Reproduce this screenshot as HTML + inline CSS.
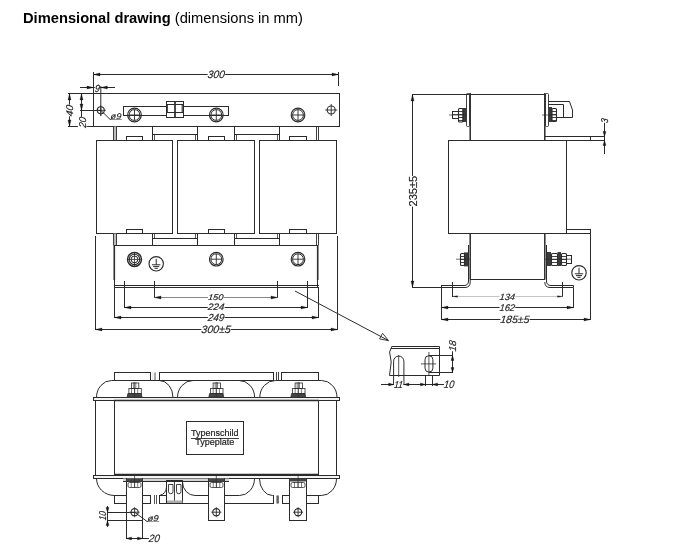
<!DOCTYPE html>
<html><head><meta charset="utf-8"><style>
html,body{margin:0;padding:0;background:#fff;width:700px;height:550px;overflow:hidden}
#t{position:absolute;left:23px;top:10px;will-change:transform;transform-origin:0 0;font-family:"Liberation Sans",sans-serif;font-size:14.7px;color:#000;white-space:nowrap}
svg{position:absolute;left:0;top:0;will-change:transform}
text{font-family:"Liberation Sans",sans-serif;fill:#222}
</style></head><body>
<div id="t"><b>Dimensional drawing</b> (dimensions in mm)</div>
<svg width="700" height="550" viewBox="0 0 700 550">
<path d="M93 74.5L339 74.5" stroke="#2b2b2b" stroke-width="1"/>
<path d="M93.5 74.5L100 73L100 76Z" fill="#151515" stroke="#151515" stroke-width="0.3"/>
<path d="M338.5 74.5L332 73L332 76Z" fill="#151515" stroke="#151515" stroke-width="0.3"/>
<path d="M93.5 72L93.5 127" stroke="#2b2b2b" stroke-width="1"/>
<path d="M338.5 72L338.5 86" stroke="#2b2b2b" stroke-width="1"/>
<rect x="207.7" y="69.45" width="17.4" height="9.1" fill="#fff"/>
<text x="216.4" y="77.75" font-size="10.71" text-anchor="middle" textLength="17.2" lengthAdjust="spacingAndGlyphs" stroke="#222" stroke-width="0.15" font-style="italic" transform="translate(216.4 74) rotate(0) skewX(-7) translate(-216.4 -74)">300</text>
<rect x="93.5" y="93.5" width="246" height="33" stroke="#2b2b2b" stroke-width="1" fill="none"/>
<path d="M68 93.5L94 93.5" stroke="#2b2b2b" stroke-width="1"/>
<path d="M68 126.5L94 126.5" stroke="#2b2b2b" stroke-width="1"/>
<path d="M69.5 94L69.5 127" stroke="#2b2b2b" stroke-width="1"/>
<path d="M69.5 93.5L68 100L71 100Z" fill="#151515" stroke="#151515" stroke-width="0.3"/>
<path d="M69.5 126.5L68 120L71 120Z" fill="#151515" stroke="#151515" stroke-width="0.3"/>
<rect x="63.35" y="106.3" width="11.7" height="8.4" fill="#fff" transform="rotate(-90 69.2 110.5)"/>
<text x="69.2" y="113.9" font-size="9.71" text-anchor="middle" textLength="11.5" lengthAdjust="spacingAndGlyphs" stroke="#222" stroke-width="0.15" font-style="italic" transform="translate(69.2 110.5) rotate(-90) skewX(-7) translate(-69.2 -110.5)">40</text>
<path d="M81.5 94L81.5 127" stroke="#2b2b2b" stroke-width="1"/>
<path d="M81.5 93.5L80 100L83 100Z" fill="#151515" stroke="#151515" stroke-width="0.3"/>
<path d="M81.5 110.5L80 104L83 104Z" fill="#151515" stroke="#151515" stroke-width="0.3"/>
<path d="M80 110.5L101 110.5" stroke="#2b2b2b" stroke-width="1"/>
<rect x="76.75" y="117.9" width="10.9" height="8.6" fill="#fff" transform="rotate(-90 82.2 122.2)"/>
<text x="82.2" y="125.7" font-size="10" text-anchor="middle" textLength="10.7" lengthAdjust="spacingAndGlyphs" stroke="#222" stroke-width="0.15" font-style="italic" transform="translate(82.2 122.2) rotate(-90) skewX(-7) translate(-82.2 -122.2)">20</text>
<path d="M80 87.5L115 87.5" stroke="#2b2b2b" stroke-width="1"/>
<path d="M93.5 87.5L87 86L87 89Z" fill="#151515" stroke="#151515" stroke-width="0.3"/>
<path d="M100.8 87.5L107.3 86L107.3 89Z" fill="#151515" stroke="#151515" stroke-width="0.3"/>
<rect x="94.8" y="83.45" width="5.2" height="8.9" fill="#fff"/>
<text x="97.4" y="91.55" font-size="10.43" text-anchor="middle" textLength="5" lengthAdjust="spacingAndGlyphs" stroke="#222" stroke-width="0.15" font-style="italic" transform="translate(97.4 87.9) rotate(0) skewX(-7) translate(-97.4 -87.9)">9</text>
<path d="M100.8 86L100.8 116" stroke="#2b2b2b" stroke-width="1"/>
<circle cx="100.8" cy="110.3" r="3.5" stroke="#2b2b2b" stroke-width="1.1" fill="none"/>
<path d="M95.8 110.3L105.8 110.3" stroke="#2b2b2b" stroke-width="0.9"/>
<path d="M100.8 105.3L100.8 115.3" stroke="#2b2b2b" stroke-width="0.9"/>
<path d="M100.8 110.3L110.2 119.5L121.5 119.5" stroke="#2b2b2b" stroke-width="1" fill="none"/>
<rect x="110.6" y="112.1" width="10.8" height="7.4" fill="#fff"/>
<text x="116" y="118.7" font-size="8.29" text-anchor="middle" textLength="10.6" lengthAdjust="spacingAndGlyphs" stroke="#222" stroke-width="0.15" font-style="italic" transform="translate(116 115.8) rotate(0) skewX(-7) translate(-116 -115.8)">ø9</text>
<rect x="123.5" y="106.5" width="105" height="9" stroke="#2b2b2b" stroke-width="1" fill="none"/>
<circle cx="134.5" cy="115" r="6.8" stroke="#2b2b2b" stroke-width="1.2" fill="none"/>
<circle cx="134.5" cy="115" r="5.4" stroke="#2b2b2b" stroke-width="1.0" fill="none"/>
<path d="M129.1 115L139.9 115" stroke="#2b2b2b" stroke-width="0.9"/>
<path d="M134.5 109.6L134.5 120.4" stroke="#2b2b2b" stroke-width="0.9"/>
<circle cx="216.3" cy="115" r="6.8" stroke="#2b2b2b" stroke-width="1.2" fill="none"/>
<circle cx="216.3" cy="115" r="5.4" stroke="#2b2b2b" stroke-width="1.0" fill="none"/>
<path d="M210.9 115L221.7 115" stroke="#2b2b2b" stroke-width="0.9"/>
<path d="M216.3 109.6L216.3 120.4" stroke="#2b2b2b" stroke-width="0.9"/>
<circle cx="298" cy="115" r="6.8" stroke="#2b2b2b" stroke-width="1.2" fill="none"/>
<circle cx="298" cy="115" r="5.4" stroke="#2b2b2b" stroke-width="1.0" fill="none"/>
<path d="M292.6 115L303.4 115" stroke="#2b2b2b" stroke-width="0.9"/>
<path d="M298 109.6L298 120.4" stroke="#2b2b2b" stroke-width="0.9"/>
<rect x="166.5" y="101.5" width="17" height="16" stroke="#2b2b2b" stroke-width="1" fill="#fff"/>
<path d="M175 101.5L175 117.5" stroke="#2b2b2b" stroke-width="1.7"/>
<path d="M166 104.5L184 104.5" stroke="#2b2b2b" stroke-width="1"/>
<path d="M166 112.5L184 112.5" stroke="#2b2b2b" stroke-width="1"/>
<path d="M167.3 104.5L167.3 112.5" stroke="#2b2b2b" stroke-width="1.1"/>
<path d="M182.2 104.5L182.2 112.5" stroke="#2b2b2b" stroke-width="1.1"/>
<circle cx="331.2" cy="110" r="4" stroke="#2b2b2b" stroke-width="1.1" fill="none"/>
<path d="M325.2 110L337.2 110" stroke="#2b2b2b" stroke-width="0.9"/>
<path d="M331.2 104L331.2 116" stroke="#2b2b2b" stroke-width="0.9"/>
<rect x="113.5" y="126.5" width="3" height="14" fill="#bdbdbd"/>
<path d="M113.5 126.5L113.5 140.5" stroke="#2b2b2b" stroke-width="0.9"/>
<path d="M116.5 126.5L116.5 140.5" stroke="#2b2b2b" stroke-width="0.9"/>
<path d="M152.5 126.5L152.5 140.5" stroke="#2b2b2b" stroke-width="1"/>
<path d="M197.5 126.5L197.5 140.5" stroke="#2b2b2b" stroke-width="1"/>
<path d="M152 134.5L198 134.5" stroke="#2b2b2b" stroke-width="1"/>
<path d="M154.5 134.5L154.5 140.5" stroke="#2b2b2b" stroke-width="0.8"/>
<path d="M195.5 134.5L195.5 140.5" stroke="#2b2b2b" stroke-width="0.8"/>
<path d="M234.5 126.5L234.5 140.5" stroke="#2b2b2b" stroke-width="1"/>
<path d="M279.5 126.5L279.5 140.5" stroke="#2b2b2b" stroke-width="1"/>
<path d="M234 134.5L280 134.5" stroke="#2b2b2b" stroke-width="1"/>
<path d="M236.5 134.5L236.5 140.5" stroke="#2b2b2b" stroke-width="0.8"/>
<path d="M277.5 134.5L277.5 140.5" stroke="#2b2b2b" stroke-width="0.8"/>
<path d="M316.5 126.5L316.5 140.5" stroke="#2b2b2b" stroke-width="0.9"/>
<path d="M318.5 126.5L318.5 140.5" stroke="#2b2b2b" stroke-width="0.9"/>
<rect x="126.5" y="136.5" width="16" height="4" stroke="#2b2b2b" stroke-width="1" fill="none"/>
<rect x="208.5" y="136.5" width="16" height="4" stroke="#2b2b2b" stroke-width="1" fill="none"/>
<rect x="289.5" y="136.5" width="17" height="4" stroke="#2b2b2b" stroke-width="1" fill="none"/>
<rect x="96.5" y="140.5" width="76" height="93" stroke="#2b2b2b" stroke-width="1" fill="none"/>
<rect x="177.5" y="140.5" width="77" height="93" stroke="#2b2b2b" stroke-width="1" fill="none"/>
<rect x="259.5" y="140.5" width="77" height="93" stroke="#2b2b2b" stroke-width="1" fill="none"/>
<rect x="113.5" y="233.5" width="3" height="12" fill="#bdbdbd"/>
<path d="M113.5 233.5L113.5 245.5" stroke="#2b2b2b" stroke-width="0.9"/>
<path d="M116.5 233.5L116.5 245.5" stroke="#2b2b2b" stroke-width="0.9"/>
<path d="M152.5 233.5L152.5 245.5" stroke="#2b2b2b" stroke-width="1"/>
<path d="M197.5 233.5L197.5 245.5" stroke="#2b2b2b" stroke-width="1"/>
<path d="M152 238.5L198 238.5" stroke="#2b2b2b" stroke-width="1"/>
<path d="M154.5 238.5L154.5 233.5" stroke="#2b2b2b" stroke-width="0.8"/>
<path d="M195.5 238.5L195.5 233.5" stroke="#2b2b2b" stroke-width="0.8"/>
<path d="M234.5 233.5L234.5 245.5" stroke="#2b2b2b" stroke-width="1"/>
<path d="M279.5 233.5L279.5 245.5" stroke="#2b2b2b" stroke-width="1"/>
<path d="M234 238.5L280 238.5" stroke="#2b2b2b" stroke-width="1"/>
<path d="M236.5 238.5L236.5 233.5" stroke="#2b2b2b" stroke-width="0.8"/>
<path d="M277.5 238.5L277.5 233.5" stroke="#2b2b2b" stroke-width="0.8"/>
<path d="M316.5 233.5L316.5 245.5" stroke="#2b2b2b" stroke-width="0.9"/>
<path d="M318.5 233.5L318.5 245.5" stroke="#2b2b2b" stroke-width="0.9"/>
<rect x="126.5" y="229.5" width="16" height="4" stroke="#2b2b2b" stroke-width="1" fill="none"/>
<rect x="208.5" y="229.5" width="16" height="4" stroke="#2b2b2b" stroke-width="1" fill="none"/>
<rect x="289.5" y="229.5" width="17" height="4" stroke="#2b2b2b" stroke-width="1" fill="none"/>
<rect x="114.5" y="245.5" width="203" height="42" stroke="#2b2b2b" stroke-width="1" fill="none"/>
<path d="M114 285.5L319 285.5" stroke="#2b2b2b" stroke-width="1"/>
<path d="M317 287.5L319 287.5" stroke="#2b2b2b" stroke-width="1"/>
<path d="M114.3 245.5L114.3 280" stroke="#2b2b2b" stroke-width="1.6"/>
<path d="M317.7 245.5L317.7 280" stroke="#2b2b2b" stroke-width="1.6"/>
<circle cx="134.5" cy="259.4" r="7" stroke="#2b2b2b" stroke-width="1.5" fill="none"/>
<circle cx="134.5" cy="259.4" r="5.2" stroke="#2b2b2b" stroke-width="1.1" fill="none"/>
<circle cx="134.5" cy="259.4" r="3.4" stroke="#2b2b2b" stroke-width="1.0" fill="none"/>
<path d="M128 259.4L141 259.4" stroke="#2b2b2b" stroke-width="0.8"/>
<path d="M134.5 253L134.5 266" stroke="#2b2b2b" stroke-width="0.8"/>
<circle cx="216.3" cy="259.2" r="6.8" stroke="#2b2b2b" stroke-width="1.2" fill="none"/>
<circle cx="216.3" cy="259.2" r="5.4" stroke="#2b2b2b" stroke-width="1.0" fill="none"/>
<path d="M210.9 259.2L221.7 259.2" stroke="#2b2b2b" stroke-width="0.9"/>
<path d="M216.3 253.8L216.3 264.6" stroke="#2b2b2b" stroke-width="0.9"/>
<circle cx="298" cy="259.2" r="6.8" stroke="#2b2b2b" stroke-width="1.2" fill="none"/>
<circle cx="298" cy="259.2" r="5.4" stroke="#2b2b2b" stroke-width="1.0" fill="none"/>
<path d="M292.6 259.2L303.4 259.2" stroke="#2b2b2b" stroke-width="0.9"/>
<path d="M298 253.8L298 264.6" stroke="#2b2b2b" stroke-width="0.9"/>
<circle cx="156.2" cy="263.8" r="7.2" stroke="#2b2b2b" stroke-width="1.15" fill="none"/>
<path d="M156.2 258.8L156.2 264.8" stroke="#2b2b2b" stroke-width="1"/>
<path d="M152 264.8L160.4 264.8" stroke="#2b2b2b" stroke-width="1"/>
<path d="M153.2 266.6L159.2 266.6" stroke="#2b2b2b" stroke-width="1"/>
<path d="M154.6 268.3L157.8 268.3" stroke="#2b2b2b" stroke-width="1"/>
<path d="M154.5 281L154.5 298" stroke="#2b2b2b" stroke-width="1"/>
<path d="M277.5 281L277.5 298" stroke="#2b2b2b" stroke-width="1"/>
<path d="M154 297.5L278 297.5" stroke="#666" stroke-width="0.8"/>
<path d="M154.5 297.5L161 296L161 299Z" fill="#151515" stroke="#151515" stroke-width="0.3"/>
<path d="M277.5 297.5L271 296L271 299Z" fill="#151515" stroke="#151515" stroke-width="0.3"/>
<rect x="207.95" y="293.7" width="15.7" height="7.4" fill="#fff"/>
<text x="215.8" y="300.3" font-size="8.29" text-anchor="middle" textLength="15.5" lengthAdjust="spacingAndGlyphs" stroke="#222" stroke-width="0.15" font-style="italic" transform="translate(215.8 297.4) rotate(0) skewX(-7) translate(-215.8 -297.4)">150</text>
<path d="M124.5 281L124.5 308" stroke="#2b2b2b" stroke-width="1"/>
<path d="M307.5 281L307.5 308" stroke="#2b2b2b" stroke-width="1"/>
<path d="M124 307.5L308 307.5" stroke="#2b2b2b" stroke-width="1"/>
<path d="M124.5 307.5L131 306L131 309Z" fill="#151515" stroke="#151515" stroke-width="0.3"/>
<path d="M307.5 307.5L301 306L301 309Z" fill="#151515" stroke="#151515" stroke-width="0.3"/>
<rect x="207.85" y="303.1" width="16.7" height="8.2" fill="#fff"/>
<text x="216.2" y="310.5" font-size="9.43" text-anchor="middle" textLength="16.5" lengthAdjust="spacingAndGlyphs" stroke="#222" stroke-width="0.15" font-style="italic" transform="translate(216.2 307.2) rotate(0) skewX(-7) translate(-216.2 -307.2)">224</text>
<path d="M114.5 288L114.5 318" stroke="#2b2b2b" stroke-width="1"/>
<path d="M318.5 288L318.5 318" stroke="#2b2b2b" stroke-width="1"/>
<path d="M114 317.5L319 317.5" stroke="#2b2b2b" stroke-width="1"/>
<path d="M114.5 317.5L121 316L121 319Z" fill="#151515" stroke="#151515" stroke-width="0.3"/>
<path d="M318.5 317.5L312 316L312 319Z" fill="#151515" stroke="#151515" stroke-width="0.3"/>
<rect x="207.85" y="313" width="16.7" height="8.8" fill="#fff"/>
<text x="216.2" y="321" font-size="10.29" text-anchor="middle" textLength="16.5" lengthAdjust="spacingAndGlyphs" stroke="#222" stroke-width="0.15" font-style="italic" transform="translate(216.2 317.4) rotate(0) skewX(-7) translate(-216.2 -317.4)">249</text>
<path d="M95.5 236L95.5 330" stroke="#2b2b2b" stroke-width="1"/>
<path d="M337.5 236L337.5 330" stroke="#2b2b2b" stroke-width="1"/>
<path d="M95 329.5L338 329.5" stroke="#2b2b2b" stroke-width="1"/>
<path d="M95.5 329.5L102 328L102 331Z" fill="#151515" stroke="#151515" stroke-width="0.3"/>
<path d="M337.5 329.5L331 328L331 331Z" fill="#151515" stroke="#151515" stroke-width="0.3"/>
<rect x="201.35" y="324.55" width="29.7" height="9.1" fill="#fff"/>
<text x="216.2" y="332.85" font-size="10.71" text-anchor="middle" textLength="29.5" lengthAdjust="spacingAndGlyphs" stroke="#222" stroke-width="0.15" font-style="italic" transform="translate(216.2 329.1) rotate(0) skewX(-7) translate(-216.2 -329.1)">300±5</text>
<path d="M295 291L388 340.3" stroke="#2b2b2b" stroke-width="1"/>
<path d="M388.6 340.7L379.6 338.9L382.6 333.3Z" stroke="#2b2b2b" stroke-width="0.9" fill="none"/>
<path d="M412 94.5L546 94.5" stroke="#2b2b2b" stroke-width="1"/>
<path d="M412.5 95L412.5 288" stroke="#2b2b2b" stroke-width="1"/>
<path d="M412.5 94.5L411 101L414 101Z" fill="#151515" stroke="#151515" stroke-width="0.3"/>
<path d="M412.5 287.5L411 281L414 281Z" fill="#151515" stroke="#151515" stroke-width="0.3"/>
<rect x="397.55" y="186.4" width="30.7" height="9.6" fill="#fff" transform="rotate(-90 412.9 191.2)"/>
<text x="412.9" y="195.2" font-size="11.43" text-anchor="middle" textLength="30.5" lengthAdjust="spacingAndGlyphs" stroke="#222" stroke-width="0.15" transform="translate(412.9 191.2) rotate(-90) translate(-412.9 -191.2)">235±5</text>
<path d="M412 287.5L442 287.5" stroke="#2b2b2b" stroke-width="1"/>
<rect x="466.5" y="93.5" width="3" height="33" rx="1" stroke="#2b2b2b" stroke-width="0.9" fill="none"/>
<path d="M470.2 93L470.2 140.5" stroke="#2b2b2b" stroke-width="1.5"/>
<rect x="462.5" y="108" width="4.5" height="14" fill="#3a3a3a"/>
<rect x="458.5" y="108.5" width="4.5" height="13.5" rx="1" stroke="#2b2b2b" stroke-width="1.1" fill="none"/>
<path d="M458 111.5L463 111.5" stroke="#2b2b2b" stroke-width="0.9"/>
<path d="M458 114.5L463 114.5" stroke="#2b2b2b" stroke-width="0.9"/>
<path d="M458 117.5L463 117.5" stroke="#2b2b2b" stroke-width="0.9"/>
<path d="M458 120.5L463 120.5" stroke="#2b2b2b" stroke-width="0.9"/>
<rect x="452.5" y="111.5" width="6" height="7" stroke="#2b2b2b" stroke-width="1.0" fill="none"/>
<path d="M452 114.5L458 114.5" stroke="#2b2b2b" stroke-width="0.8"/>
<path d="M449 115L467 115" stroke="#2b2b2b" stroke-width="0.7"/>
<path d="M544.8 93L544.8 140.5" stroke="#2b2b2b" stroke-width="1.5"/>
<rect x="545.5" y="93.5" width="3" height="33" rx="1" stroke="#2b2b2b" stroke-width="0.9" fill="none"/>
<rect x="549" y="107" width="3" height="15" fill="#3a3a3a"/>
<rect x="552" y="108.5" width="4.5" height="13" rx="1" stroke="#2b2b2b" stroke-width="1.1" fill="none"/>
<path d="M551 111.5L557 111.5" stroke="#2b2b2b" stroke-width="0.9"/>
<path d="M551 114.5L557 114.5" stroke="#2b2b2b" stroke-width="0.9"/>
<path d="M551 117.5L557 117.5" stroke="#2b2b2b" stroke-width="0.9"/>
<path d="M551 120.5L557 120.5" stroke="#2b2b2b" stroke-width="0.9"/>
<path d="M542 115L557 115" stroke="#2b2b2b" stroke-width="0.7"/>
<path d="M548.5 101.5L569.5 101.5L572.5 110L572.5 117.5L557 117.5" stroke="#2b2b2b" stroke-width="1" fill="none"/>
<path d="M548.5 104.5L563.5 104.5L563.5 117.5" stroke="#2b2b2b" stroke-width="1" fill="none"/>
<path d="M545 136.5L605 136.5" stroke="#2b2b2b" stroke-width="1"/>
<path d="M449 140.5L605 140.5" stroke="#2b2b2b" stroke-width="1"/>
<path d="M590.5 136L590.5 141" stroke="#2b2b2b" stroke-width="1"/>
<path d="M604.5 118L604.5 154" stroke="#2b2b2b" stroke-width="1"/>
<path d="M604.5 136.5L603 131.5L606 131.5Z" fill="#151515" stroke="#151515" stroke-width="0.3"/>
<path d="M604.5 140.5L603 145.5L606 145.5Z" fill="#151515" stroke="#151515" stroke-width="0.3"/>
<rect x="602.15" y="116.2" width="4.7" height="8.6" fill="#fff" transform="rotate(-90 604.5 120.5)"/>
<text x="604.5" y="124" font-size="10" text-anchor="middle" textLength="4.5" lengthAdjust="spacingAndGlyphs" stroke="#222" stroke-width="0.15" font-style="italic" transform="translate(604.5 120.5) rotate(-90) skewX(-7) translate(-604.5 -120.5)">3</text>
<path d="M448.5 140L448.5 234" stroke="#2b2b2b" stroke-width="1"/>
<path d="M566.5 140L566.5 234" stroke="#2b2b2b" stroke-width="1"/>
<path d="M448 233.5L591 233.5" stroke="#2b2b2b" stroke-width="1"/>
<path d="M566 229.5L591 229.5" stroke="#2b2b2b" stroke-width="1"/>
<path d="M590.5 229L590.5 320" stroke="#2b2b2b" stroke-width="1"/>
<path d="M470.2 233.5L470.2 279.5" stroke="#2b2b2b" stroke-width="1.5"/>
<path d="M544.8 233.5L544.8 279.5" stroke="#2b2b2b" stroke-width="1.5"/>
<path d="M470 279.5L545 279.5" stroke="#2b2b2b" stroke-width="1"/>
<path d="M468.5 245L468.5 281Q468.5 285.5 464 285.5L441 285.5" stroke="#2b2b2b" stroke-width="1" fill="none"/>
<path d="M470.2 279.5L470.2 282Q470.2 287.5 465 287.5L441 287.5" stroke="#2b2b2b" stroke-width="1" fill="none"/>
<path d="M546.5 245L546.5 281Q546.5 285.5 551 285.5L573.5 285.5L573.5 287.5L550 287.5Q544.8 287.5 544.8 282" stroke="#2b2b2b" stroke-width="1" fill="none"/>
<rect x="464" y="252.4" width="4" height="14" fill="#3a3a3a"/>
<rect x="460.5" y="253.5" width="4" height="12" rx="1" stroke="#2b2b2b" stroke-width="1.1" fill="none"/>
<path d="M460 256.5L465 256.5" stroke="#2b2b2b" stroke-width="0.9"/>
<path d="M460 259.5L465 259.5" stroke="#2b2b2b" stroke-width="0.9"/>
<path d="M460 262.5L465 262.5" stroke="#2b2b2b" stroke-width="0.9"/>
<path d="M456 259.2L470 259.2" stroke="#2b2b2b" stroke-width="0.7"/>
<rect x="547" y="252" width="4" height="14" fill="#3a3a3a"/>
<rect x="551.5" y="253.5" width="6" height="12" rx="1" stroke="#2b2b2b" stroke-width="1.1" fill="none"/>
<rect x="557.5" y="252" width="3.5" height="14" fill="#3a3a3a"/>
<rect x="561.5" y="253.5" width="5" height="12" rx="1" stroke="#2b2b2b" stroke-width="1.1" fill="none"/>
<rect x="566.5" y="255.5" width="5" height="8" stroke="#2b2b2b" stroke-width="1.0" fill="none"/>
<path d="M551 256.5L558 256.5" stroke="#2b2b2b" stroke-width="0.9"/>
<path d="M551 259.5L558 259.5" stroke="#2b2b2b" stroke-width="0.9"/>
<path d="M551 262.5L558 262.5" stroke="#2b2b2b" stroke-width="0.9"/>
<path d="M561 256.5L567 256.5" stroke="#2b2b2b" stroke-width="0.9"/>
<path d="M561 259.5L567 259.5" stroke="#2b2b2b" stroke-width="0.9"/>
<path d="M561 262.5L567 262.5" stroke="#2b2b2b" stroke-width="0.9"/>
<path d="M545 259.2L572 259.2" stroke="#2b2b2b" stroke-width="0.7"/>
<circle cx="579" cy="272.8" r="7.2" stroke="#2b2b2b" stroke-width="1.15" fill="none"/>
<path d="M579 267.8L579 273.8" stroke="#2b2b2b" stroke-width="1"/>
<path d="M574.8 273.8L583.2 273.8" stroke="#2b2b2b" stroke-width="1"/>
<path d="M576 275.6L582 275.6" stroke="#2b2b2b" stroke-width="1"/>
<path d="M577.4 277.3L580.6 277.3" stroke="#2b2b2b" stroke-width="1"/>
<path d="M441.5 285L441.5 320" stroke="#2b2b2b" stroke-width="1"/>
<path d="M573.5 288L573.5 308" stroke="#2b2b2b" stroke-width="1"/>
<path d="M452.5 282L452.5 297" stroke="#2b2b2b" stroke-width="1"/>
<path d="M562.5 282L562.5 297" stroke="#2b2b2b" stroke-width="1"/>
<path d="M453 296.5L563 296.5" stroke="#aaa" stroke-width="0.7"/>
<path d="M452.5 296.5L457.5 295.7L457.5 297.3Z" fill="#151515" stroke="#151515" stroke-width="0.3"/>
<path d="M562.5 296.5L557.5 295.7L557.5 297.3Z" fill="#151515" stroke="#151515" stroke-width="0.3"/>
<rect x="499.55" y="292.6" width="15.7" height="8" fill="#fff"/>
<text x="507.4" y="299.8" font-size="9.14" text-anchor="middle" textLength="15.5" lengthAdjust="spacingAndGlyphs" stroke="#222" stroke-width="0.15" font-style="italic" transform="translate(507.4 296.6) rotate(0) skewX(-7) translate(-507.4 -296.6)">134</text>
<path d="M441 307.5L574 307.5" stroke="#2b2b2b" stroke-width="1"/>
<path d="M441.5 307.5L448 306L448 309Z" fill="#151515" stroke="#151515" stroke-width="0.3"/>
<path d="M573.5 307.5L567 306L567 309Z" fill="#151515" stroke="#151515" stroke-width="0.3"/>
<rect x="499.55" y="303.4" width="15.7" height="8.4" fill="#fff"/>
<text x="507.4" y="311" font-size="9.71" text-anchor="middle" textLength="15.5" lengthAdjust="spacingAndGlyphs" stroke="#222" stroke-width="0.15" font-style="italic" transform="translate(507.4 307.6) rotate(0) skewX(-7) translate(-507.4 -307.6)">162</text>
<path d="M441 319.5L591 319.5" stroke="#2b2b2b" stroke-width="1"/>
<path d="M441.5 319.5L448 318L448 321Z" fill="#151515" stroke="#151515" stroke-width="0.3"/>
<path d="M590.5 319.5L584 318L584 321Z" fill="#151515" stroke="#151515" stroke-width="0.3"/>
<rect x="500.4" y="314.9" width="29.2" height="9" fill="#fff"/>
<text x="515" y="323.1" font-size="10.57" text-anchor="middle" textLength="29" lengthAdjust="spacingAndGlyphs" stroke="#222" stroke-width="0.15" font-style="italic" transform="translate(515 319.4) rotate(0) skewX(-7) translate(-515 -319.4)">185±5</text>
<path d="M389.5 375.5L391.2 362L389.6 352L391.8 346.5L439.5 346.5L439.5 375.5Z" stroke="#2b2b2b" stroke-width="1" fill="none"/>
<path d="M391 348.5L440 348.5" stroke="#2b2b2b" stroke-width="1"/>
<path d="M393.6 385L393.6 361.2A5.15 5.15 0 0 1 403.9 361.2L403.9 385" stroke="#2b2b2b" stroke-width="1" fill="none"/>
<path d="M398.7 355L398.7 377" stroke="#2b2b2b" stroke-width="0.8"/>
<rect x="425" y="355.7" width="7.9" height="16.4" rx="3.95" ry="4" stroke="#2b2b2b" stroke-width="1" fill="none"/>
<path d="M421 363.9L436 363.9" stroke="#2b2b2b" stroke-width="0.8"/>
<path d="M428.9 352L428.9 376" stroke="#2b2b2b" stroke-width="0.8"/>
<path d="M429 355.5L453 355.5" stroke="#2b2b2b" stroke-width="1"/>
<path d="M429 372.5L453 372.5" stroke="#2b2b2b" stroke-width="1"/>
<path d="M452.5 349L452.5 373" stroke="#2b2b2b" stroke-width="1"/>
<path d="M452.5 355.5L451 360.5L454 360.5Z" fill="#151515" stroke="#151515" stroke-width="0.3"/>
<path d="M452.5 372.5L451 367.5L454 367.5Z" fill="#151515" stroke="#151515" stroke-width="0.3"/>
<rect x="446.7" y="341.4" width="11.2" height="8.6" fill="#fff" transform="rotate(-90 452.3 345.7)"/>
<text x="452.3" y="349.2" font-size="10" text-anchor="middle" textLength="11" lengthAdjust="spacingAndGlyphs" stroke="#222" stroke-width="0.15" font-style="italic" transform="translate(452.3 345.7) rotate(-90) skewX(-7) translate(-452.3 -345.7)">18</text>
<path d="M425.5 376L425.5 386" stroke="#2b2b2b" stroke-width="1"/>
<path d="M432.5 376L432.5 386" stroke="#2b2b2b" stroke-width="1"/>
<path d="M381 384.5L446 384.5" stroke="#2b2b2b" stroke-width="1"/>
<path d="M393.6 384.5L388.6 383L388.6 386Z" fill="#151515" stroke="#151515" stroke-width="0.3"/>
<path d="M403.9 384.5L408.9 383L408.9 386Z" fill="#151515" stroke="#151515" stroke-width="0.3"/>
<path d="M425.5 384.5L420.5 383L420.5 386Z" fill="#151515" stroke="#151515" stroke-width="0.3"/>
<path d="M432.5 384.5L437.5 383L437.5 386Z" fill="#151515" stroke="#151515" stroke-width="0.3"/>
<rect x="394" y="380.3" width="9.2" height="8.6" fill="#fff"/>
<text x="398.6" y="388.1" font-size="10" text-anchor="middle" textLength="9" lengthAdjust="spacingAndGlyphs" stroke="#222" stroke-width="0.15" font-style="italic" transform="translate(398.6 384.6) rotate(0) skewX(-7) translate(-398.6 -384.6)">11</text>
<rect x="443.95" y="380.05" width="10.7" height="9.1" fill="#fff"/>
<text x="449.3" y="388.35" font-size="10.71" text-anchor="middle" textLength="10.5" lengthAdjust="spacingAndGlyphs" stroke="#222" stroke-width="0.15" font-style="italic" transform="translate(449.3 384.6) rotate(0) skewX(-7) translate(-449.3 -384.6)">10</text>
<rect x="114.5" y="372.5" width="36" height="8" stroke="#2b2b2b" stroke-width="1" fill="none"/>
<rect x="159.5" y="372.5" width="114" height="8" stroke="#2b2b2b" stroke-width="1" fill="none"/>
<rect x="281.5" y="372.5" width="37" height="8" stroke="#2b2b2b" stroke-width="1" fill="none"/>
<path d="M155 372.5L155 380.5" stroke="#777" stroke-width="1.3"/>
<path d="M152.6 372.5L152.6 380.5" stroke="#ccc" stroke-width="0.5"/>
<path d="M276.5 372L276.5 381" stroke="#2b2b2b" stroke-width="0.9"/>
<path d="M278.5 372L278.5 381" stroke="#2b2b2b" stroke-width="0.9"/>
<path d="M96.5 397.5A15 17 0 0 1 111.5 380.5L159.4 380.5A13.6 17 0 0 1 173 397.5" stroke="#2b2b2b" stroke-width="1" fill="none"/>
<path d="M177.5 397.5A15.5 17 0 0 1 193 380.5L239.2 380.5A15.4 17 0 0 1 254.6 397.5" stroke="#2b2b2b" stroke-width="1" fill="none"/>
<path d="M259.8 397.5A15.5 17 0 0 1 275.3 380.5L321.5 380.5A15.5 17 0 0 1 337 397.5" stroke="#2b2b2b" stroke-width="1" fill="none"/>
<path d="M150 380.5L160 380.5" stroke="#2b2b2b" stroke-width="1"/>
<rect x="131.4" y="383" width="7.4" height="5.5" stroke="#2b2b2b" stroke-width="0.8" fill="none"/>
<path d="M133.4 382.5L133.4 388" stroke="#2b2b2b" stroke-width="0.6"/>
<path d="M135.8 382.5L135.8 388" stroke="#2b2b2b" stroke-width="0.6"/>
<rect x="128.9" y="388.5" width="12.4" height="5" stroke="#2b2b2b" stroke-width="0.8" fill="none"/>
<path d="M131.5 388L131.5 393" stroke="#2b2b2b" stroke-width="0.6"/>
<path d="M134.6 388L134.6 393" stroke="#2b2b2b" stroke-width="0.6"/>
<path d="M137.7 388L137.7 393" stroke="#2b2b2b" stroke-width="0.6"/>
<path d="M127.9 393.5L141.3 393.5L142.1 397.5L127.1 397.5Z" stroke="#2b2b2b" stroke-width="0.8" fill="#444"/>
<path d="M134.6 382L134.6 400.5" stroke="#2b2b2b" stroke-width="0.7"/>
<rect x="213.1" y="383" width="7.4" height="5.5" stroke="#2b2b2b" stroke-width="0.8" fill="none"/>
<path d="M215.1 382.5L215.1 388" stroke="#2b2b2b" stroke-width="0.6"/>
<path d="M217.5 382.5L217.5 388" stroke="#2b2b2b" stroke-width="0.6"/>
<rect x="210.6" y="388.5" width="12.4" height="5" stroke="#2b2b2b" stroke-width="0.8" fill="none"/>
<path d="M213.2 388L213.2 393" stroke="#2b2b2b" stroke-width="0.6"/>
<path d="M216.3 388L216.3 393" stroke="#2b2b2b" stroke-width="0.6"/>
<path d="M219.4 388L219.4 393" stroke="#2b2b2b" stroke-width="0.6"/>
<path d="M209.6 393.5L223 393.5L223.8 397.5L208.8 397.5Z" stroke="#2b2b2b" stroke-width="0.8" fill="#444"/>
<path d="M216.3 382L216.3 400.5" stroke="#2b2b2b" stroke-width="0.7"/>
<rect x="295.1" y="383" width="7.4" height="5.5" stroke="#2b2b2b" stroke-width="0.8" fill="none"/>
<path d="M297.1 382.5L297.1 388" stroke="#2b2b2b" stroke-width="0.6"/>
<path d="M299.5 382.5L299.5 388" stroke="#2b2b2b" stroke-width="0.6"/>
<rect x="292.6" y="388.5" width="12.4" height="5" stroke="#2b2b2b" stroke-width="0.8" fill="none"/>
<path d="M295.2 388L295.2 393" stroke="#2b2b2b" stroke-width="0.6"/>
<path d="M298.3 388L298.3 393" stroke="#2b2b2b" stroke-width="0.6"/>
<path d="M301.4 388L301.4 393" stroke="#2b2b2b" stroke-width="0.6"/>
<path d="M291.6 393.5L305 393.5L305.8 397.5L290.8 397.5Z" stroke="#2b2b2b" stroke-width="0.8" fill="#444"/>
<path d="M298.3 382L298.3 400.5" stroke="#2b2b2b" stroke-width="0.7"/>
<rect x="93.5" y="397.5" width="245.5" height="3" fill="#f2f2f2"/>
<rect x="93.5" y="397.5" width="246" height="3" stroke="#2b2b2b" stroke-width="1" fill="none"/>
<path d="M114 400.5L319 400.5" stroke="#2b2b2b" stroke-width="1.7"/>
<path d="M95.5 401L95.5 476" stroke="#2b2b2b" stroke-width="1"/>
<path d="M336.5 401L336.5 476" stroke="#2b2b2b" stroke-width="1"/>
<path d="M114.5 401L114.5 475" stroke="#2b2b2b" stroke-width="1"/>
<path d="M318.5 401L318.5 475" stroke="#2b2b2b" stroke-width="1"/>
<rect x="186.5" y="421.5" width="57" height="33" stroke="#2b2b2b" stroke-width="1" fill="none"/>
<text x="214.8" y="436.4" font-size="9.7" text-anchor="middle" textLength="47.6" lengthAdjust="spacingAndGlyphs" stroke="#222" stroke-width="0.2">Typenschild</text>
<path d="M191 438.5L239 438.5" stroke="#2b2b2b" stroke-width="0.9"/>
<text x="214.8" y="445.4" font-size="9.7" text-anchor="middle" textLength="39.2" lengthAdjust="spacingAndGlyphs" stroke="#222" stroke-width="0.2">Typeplate</text>
<path d="M114 474.5L319 474.5" stroke="#2b2b2b" stroke-width="1.5"/>
<rect x="93.5" y="475.5" width="245.5" height="3" fill="#f4f4f4"/>
<rect x="93.5" y="475.5" width="246" height="3" stroke="#2b2b2b" stroke-width="1" fill="none"/>
<rect x="123" y="478.5" width="106" height="3" fill="#d4d4d4"/>
<path d="M123 481.5L229 481.5" stroke="#2b2b2b" stroke-width="1.2"/>
<path d="M96.5 478.5A18 17 0 0 0 114.5 495.5L126.5 495.5" stroke="#2b2b2b" stroke-width="1" fill="none"/>
<path d="M142.5 495.5L150.5 495.5M159.5 495.5A9 9 0 0 0 166.5 487" stroke="#2b2b2b" stroke-width="1" fill="none"/>
<path d="M182.5 482A12.5 13.5 0 0 0 195 495.5L208.5 495.5M224.5 495.5L239.5 495.5A15 17 0 0 0 254.5 478.5" stroke="#2b2b2b" stroke-width="1" fill="none"/>
<path d="M259.5 478.5A13 17 0 0 0 272.5 495.5L273.5 495.5M282.5 495.5L289.5 495.5M306.5 495.5L321.5 495.5A15 17 0 0 0 336.5 478.5" stroke="#2b2b2b" stroke-width="1" fill="none"/>
<rect x="114.5" y="495.5" width="12" height="8" stroke="#2b2b2b" stroke-width="1" fill="none"/>
<rect x="142.5" y="495.5" width="8" height="8" stroke="#2b2b2b" stroke-width="1" fill="none"/>
<path d="M154.5 495L154.5 504" stroke="#2b2b2b" stroke-width="0.8"/>
<path d="M156.5 495L156.5 504" stroke="#2b2b2b" stroke-width="0.8"/>
<rect x="159.5" y="495.5" width="7" height="8" stroke="#2b2b2b" stroke-width="1" fill="none"/>
<path d="M183 503.5L209 503.5" stroke="#2b2b2b" stroke-width="1"/>
<path d="M224 503.5L274 503.5" stroke="#2b2b2b" stroke-width="1"/>
<path d="M273.5 495L273.5 504" stroke="#2b2b2b" stroke-width="1"/>
<rect x="277" y="495.5" width="1.2" height="8" fill="#bdbdbd"/>
<path d="M277 495.5L277 503.5" stroke="#2b2b2b" stroke-width="0.9"/>
<path d="M278.2 495.5L278.2 503.5" stroke="#2b2b2b" stroke-width="0.9"/>
<rect x="282.5" y="495.5" width="7" height="8" stroke="#2b2b2b" stroke-width="1" fill="none"/>
<rect x="306.5" y="495.5" width="12" height="8" stroke="#2b2b2b" stroke-width="1" fill="none"/>
<rect x="166.5" y="480.5" width="16" height="23" stroke="#2b2b2b" stroke-width="1" fill="none"/>
<path d="M174.5 480L174.5 504" stroke="#2b2b2b" stroke-width="0.9"/>
<rect x="167" y="500.5" width="15.5" height="2.5" fill="#aaa"/>
<path d="M168.5 484.5L168.5 491.5A2.25 2.25 0 0 0 173 491.5L173 484.5Z" stroke="#2b2b2b" stroke-width="0.9" fill="none"/>
<path d="M176.5 484.5L176.5 491.5A2.25 2.25 0 0 0 181 491.5L181 484.5Z" stroke="#2b2b2b" stroke-width="0.9" fill="none"/>
<path d="M126.5 478L126.5 521" stroke="#2b2b2b" stroke-width="1"/>
<path d="M142.5 478L142.5 521" stroke="#2b2b2b" stroke-width="1"/>
<path d="M126 520.5L143 520.5" stroke="#2b2b2b" stroke-width="1"/>
<rect x="126.5" y="478.5" width="16" height="3" fill="#444"/>
<rect x="128" y="482.5" width="13" height="5" rx="1.5" stroke="#2b2b2b" stroke-width="0.8" fill="none"/>
<path d="M131.25 482L131.25 487" stroke="#2b2b2b" stroke-width="0.6"/>
<path d="M134.5 482L134.5 487" stroke="#2b2b2b" stroke-width="0.6"/>
<path d="M137.75 482L137.75 487" stroke="#2b2b2b" stroke-width="0.6"/>
<circle cx="134.6" cy="512.2" r="3.6" stroke="#2b2b2b" stroke-width="1.1" fill="none"/>
<path d="M129.6 512.2L139.6 512.2" stroke="#2b2b2b" stroke-width="0.9"/>
<path d="M134.6 507.2L134.6 517.2" stroke="#2b2b2b" stroke-width="0.9"/>
<path d="M134.6 475L134.6 488" stroke="#2b2b2b" stroke-width="0.7"/>
<path d="M208.5 478L208.5 521" stroke="#2b2b2b" stroke-width="1"/>
<path d="M224.5 478L224.5 521" stroke="#2b2b2b" stroke-width="1"/>
<path d="M208 520.5L225 520.5" stroke="#2b2b2b" stroke-width="1"/>
<rect x="208.5" y="478.5" width="16" height="3" fill="#444"/>
<rect x="210" y="482.5" width="13" height="5" rx="1.5" stroke="#2b2b2b" stroke-width="0.8" fill="none"/>
<path d="M213.25 482L213.25 487" stroke="#2b2b2b" stroke-width="0.6"/>
<path d="M216.5 482L216.5 487" stroke="#2b2b2b" stroke-width="0.6"/>
<path d="M219.75 482L219.75 487" stroke="#2b2b2b" stroke-width="0.6"/>
<circle cx="216.3" cy="512.2" r="3.6" stroke="#2b2b2b" stroke-width="1.1" fill="none"/>
<path d="M211.3 512.2L221.3 512.2" stroke="#2b2b2b" stroke-width="0.9"/>
<path d="M216.3 507.2L216.3 517.2" stroke="#2b2b2b" stroke-width="0.9"/>
<path d="M216.3 475L216.3 488" stroke="#2b2b2b" stroke-width="0.7"/>
<path d="M289.5 478L289.5 521" stroke="#2b2b2b" stroke-width="1"/>
<path d="M306.5 478L306.5 521" stroke="#2b2b2b" stroke-width="1"/>
<path d="M289 520.5L307 520.5" stroke="#2b2b2b" stroke-width="1"/>
<rect x="289.5" y="478.5" width="17" height="3" fill="#444"/>
<rect x="291" y="482.5" width="14" height="5" rx="1.5" stroke="#2b2b2b" stroke-width="0.8" fill="none"/>
<path d="M294.5 482L294.5 487" stroke="#2b2b2b" stroke-width="0.6"/>
<path d="M298 482L298 487" stroke="#2b2b2b" stroke-width="0.6"/>
<path d="M301.5 482L301.5 487" stroke="#2b2b2b" stroke-width="0.6"/>
<circle cx="298.1" cy="512.2" r="3.6" stroke="#2b2b2b" stroke-width="1.1" fill="none"/>
<path d="M293.1 512.2L303.1 512.2" stroke="#2b2b2b" stroke-width="0.9"/>
<path d="M298.1 507.2L298.1 517.2" stroke="#2b2b2b" stroke-width="0.9"/>
<path d="M298.1 475L298.1 488" stroke="#2b2b2b" stroke-width="0.7"/>
<path d="M126.5 520L126.5 539" stroke="#2b2b2b" stroke-width="1"/>
<path d="M142.5 520L142.5 539" stroke="#2b2b2b" stroke-width="1"/>
<path d="M126 538.5L149 538.5" stroke="#2b2b2b" stroke-width="1"/>
<path d="M126.5 538.5L131.5 537L131.5 540Z" fill="#151515" stroke="#151515" stroke-width="0.3"/>
<path d="M142.5 538.5L137.5 537L137.5 540Z" fill="#151515" stroke="#151515" stroke-width="0.3"/>
<rect x="148.9" y="533.65" width="11.2" height="9.1" fill="#fff"/>
<text x="154.5" y="541.95" font-size="10.71" text-anchor="middle" textLength="11" lengthAdjust="spacingAndGlyphs" stroke="#222" stroke-width="0.15" font-style="italic" transform="translate(154.5 538.2) rotate(0) skewX(-7) translate(-154.5 -538.2)">20</text>
<path d="M107 512.5L134 512.5" stroke="#2b2b2b" stroke-width="1"/>
<path d="M107 520.5L127 520.5" stroke="#2b2b2b" stroke-width="1"/>
<path d="M107.5 506L107.5 527" stroke="#2b2b2b" stroke-width="1"/>
<path d="M107.5 512.5L106 507.5L109 507.5Z" fill="#151515" stroke="#151515" stroke-width="0.3"/>
<path d="M107.5 520.5L106 525.5L109 525.5Z" fill="#151515" stroke="#151515" stroke-width="0.3"/>
<rect x="97.9" y="511.2" width="9.2" height="8.6" fill="#fff" transform="rotate(-90 102.5 515.5)"/>
<text x="102.5" y="519" font-size="10" text-anchor="middle" textLength="9" lengthAdjust="spacingAndGlyphs" stroke="#222" stroke-width="0.15" font-style="italic" transform="translate(102.5 515.5) rotate(-90) skewX(-7) translate(-102.5 -515.5)">10</text>
<path d="M134.6 512.2L147.1 521.5L159.1 521.5" stroke="#2b2b2b" stroke-width="1" fill="none"/>
<rect x="147.6" y="514.25" width="11.2" height="7.3" fill="#fff"/>
<text x="153.2" y="520.75" font-size="8.14" text-anchor="middle" textLength="11" lengthAdjust="spacingAndGlyphs" stroke="#222" stroke-width="0.15" font-style="italic" transform="translate(153.2 517.9) rotate(0) skewX(-7) translate(-153.2 -517.9)">ø9</text>
</svg>
</body></html>
